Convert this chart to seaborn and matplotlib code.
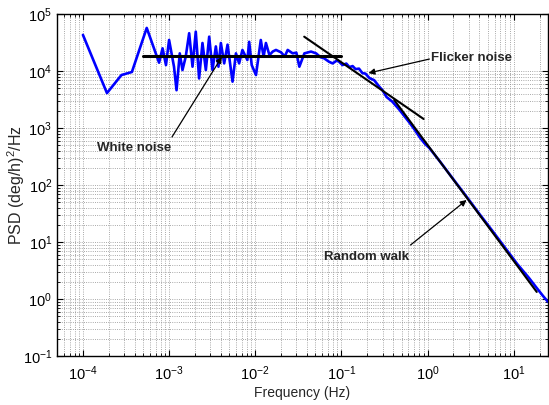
import matplotlib
matplotlib.use("Agg")
import matplotlib.pyplot as plt
import seaborn as sns
import numpy as np
import pandas as pd
from matplotlib.ticker import FixedLocator, NullFormatter, LogFormatterSciNotation

# ---- data ----
freq = [1.0e-4, 1.9e-4, 2.8e-4, 3.7e-4, 5.5e-4, 7.65e-4, 8.4e-4, 9.2e-4,
        1.0e-3, 1.14e-3, 1.22e-3, 1.33e-3, 1.43e-3, 1.56e-3, 1.71e-3, 1.87e-3,
        2.04e-3, 2.23e-3, 2.44e-3, 2.67e-3, 2.92e-3, 3.19e-3, 3.49e-3, 3.74e-3,
        3.99e-3, 4.36e-3, 4.77e-3, 5.45e-3, 5.97e-3, 6.5e-3, 7.1e-3, 8.1e-3,
        8.5e-3, 9.1e-3, 1.02e-2, 1.16e-2, 1.25e-2, 1.33e-2, 1.46e-2, 1.6e-2,
        1.74e-2, 1.99e-2, 2.2e-2, 2.38e-2, 2.72e-2, 3.0e-2, 3.25e-2, 3.72e-2,
        4.44e-2, 5.08e-2, 5.7e-2, 6.3e-2, 7.2e-2, 7.9e-2, 0.09, 0.103, 0.114,
        0.124, 0.135, 0.146, 0.16, 0.175, 0.19, 0.212, 0.24, 0.277, 0.30, 0.334,
        0.39, 0.47, 0.55, 0.62, 0.71, 0.81, 0.92, 1.05, 1.4, 2.0, 2.8, 4.0,
        5.6, 8.0, 11.0, 15.0, 18.5, 22.0, 25.0]
psd = [4.3e4, 4.1e3, 8.5e3, 9.6e3, 5.7e4, 1.4e4, 2.5e4, 1.27e4,
       3.5e4, 1.19e4, 4.6e3, 2.04e4, 1.04e4, 1.78e4, 4.6e4, 1.19e4,
       4.9e4, 7.4e3, 3.1e4, 1.04e4, 4.0e4, 1.04e4, 2.7e4, 1.19e4,
       3.1e4, 1.36e4, 2.9e4, 6.5e3, 2.04e4, 1.36e4, 2.34e4, 1.56e4,
       3.25e4, 1.27e4, 8.5e3, 3.5e4, 1.78e4, 3.1e4, 1.9e4, 2.2e4,
       2.34e4, 2.13e4, 1.8e4, 2.34e4, 2.04e4, 2.1e4, 1.19e4, 2.04e4,
       2.19e4, 2.04e4, 1.75e4, 1.67e4, 1.45e4, 1.36e4, 1.55e4, 1.27e4, 1.35e4,
       1.17e4, 1.22e4, 1.08e4, 1.1e4, 9.2e3, 9.0e3, 7.5e3, 6.9e3, 5.25e3, 4.6e3, 3.5e3,
       2.9e3, 2.1e3, 1.55e3, 1.23e3, 930, 690, 540, 445, 256, 125, 64, 31,
       16, 7.8, 4.1, 2.35, 1.56, 1.12, 0.89]

white_f = [5.0e-4, 0.1]
white_psd = [1.8e4, 1.8e4]
flicker_f = [0.037, 0.9]
flicker_psd = [4.0e4, 1.44e3]
rw_f = [0.41, 18.5]
rw_psd = [3.1e3, 1.33]

x_major = [1e-4, 1e-3, 1e-2, 1e-1, 1e0, 1e1]
y_major = [1e-1, 1e0, 1e1, 1e2, 1e3, 1e4, 1e5]

labels = ["White noise", "Flicker noise", "Random walk"]
label_pos = [(3.9e-4, 446), (3.25, 1.7e4), (0.195, 5.46)]
arrow_tail = [(1.08e-3, 695), (1.05, 1.62e4), (0.634, 8.85)]
arrow_tip = [(4.1e-3, 1.77e4), (0.206, 9.2e3), (2.84, 54.6)]

# ---- styling ----
sns.set_style("ticks")
plt.rcParams['font.family'] = ['Liberation Sans', 'DejaVu Sans']
plt.rcParams['mathtext.fontset'] = 'custom'
plt.rcParams['mathtext.rm'] = 'Liberation Sans'
plt.rcParams['mathtext.it'] = 'Liberation Sans:italic'
plt.rcParams['mathtext.bf'] = 'Liberation Sans:bold'

fig = plt.figure(figsize=(5.49, 4.05), dpi=100)
ax = fig.add_axes([57/549, 1-356/405, (548-57)/549, (356-14)/405])

df = pd.DataFrame({"f": freq, "psd": psd})
sns.lineplot(data=df, x="f", y="psd", ax=ax, color="#0000FF", lw=1.9,
             estimator=None, sort=False)
sns.lineplot(x=white_f, y=white_psd, ax=ax, color="k", lw=2.2, estimator=None)
sns.lineplot(x=flicker_f, y=flicker_psd, ax=ax, color="k", lw=1.5, estimator=None)
sns.lineplot(x=rw_f, y=rw_psd, ax=ax, color="k", lw=1.5, estimator=None)

ax.set_xscale("log")
ax.set_yscale("log")
xlim = (5e-5, 25)
ylim = (0.1, 1e5)
ax.set_xlim(*xlim)
ax.set_ylim(*ylim)

def minors(lo, hi):
    out = []
    for e in range(-6, 4):
        for m in range(2, 10):
            v = m * 10.0 ** e
            if lo < v < hi:
                out.append(v)
    return out

ax.xaxis.set_major_locator(FixedLocator(x_major))
ax.yaxis.set_major_locator(FixedLocator(y_major))
ax.xaxis.set_minor_locator(FixedLocator(minors(*xlim)))
ax.yaxis.set_minor_locator(FixedLocator(minors(*ylim)))
ax.xaxis.set_major_formatter(LogFormatterSciNotation())
ax.yaxis.set_major_formatter(LogFormatterSciNotation())
ax.xaxis.set_minor_formatter(NullFormatter())
ax.yaxis.set_minor_formatter(NullFormatter())

ax.grid(True, which="both", linestyle=":", color="0.55", linewidth=0.6)
ax.tick_params(which="both", direction="in", top=True, right=True,
               labelsize=10.5, colors="k")
ax.tick_params(axis="x", which="major", pad=6)
ax.tick_params(which="major", length=4, width=0.8)
ax.tick_params(which="minor", length=2, width=0.6)
for s in ax.spines.values():
    s.set_linewidth(1.0)
    s.set_color("k")

ax.set_xlabel("Frequency (Hz)", fontsize=10, labelpad=2)
ax.set_ylabel("PSD (deg/h)$^2$/Hz", fontsize=11.5)
ax.yaxis.set_label_coords(-0.062, 0.5)

for lab, pos, tail, tip in zip(labels, label_pos, arrow_tail, arrow_tip):
    ax.text(pos[0], pos[1], lab, ha="center", va="center", fontsize=9.5,
            fontweight="bold")
    ax.annotate("", xy=tip, xytext=tail,
                arrowprops=dict(arrowstyle="-|>", color="k", lw=0.9,
                                mutation_scale=9, shrinkA=0, shrinkB=0))

fig.savefig("out.png", dpi=100)
